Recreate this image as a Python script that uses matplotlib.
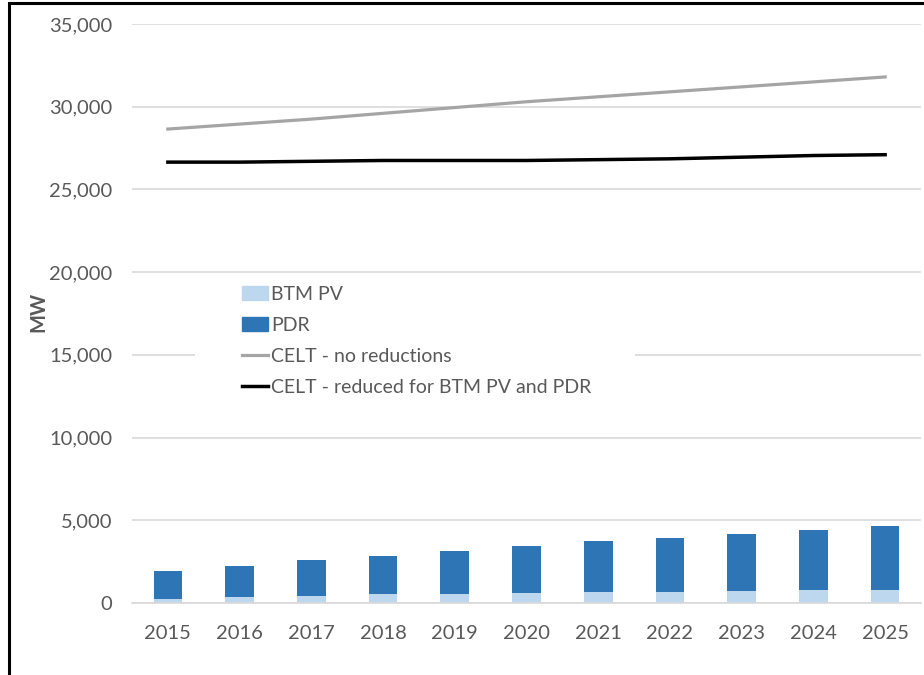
import matplotlib.pyplot as plt
import numpy as np
from matplotlib.patches import Patch, Rectangle
from matplotlib.lines import Line2D
from matplotlib.ticker import FuncFormatter

plt.rcParams['font.family'] = ['Lato', 'DejaVu Sans']

years = ['2015', '2016', '2017', '2018', '2019', '2020',
         '2021', '2022', '2023', '2024', '2025']
btm_pv = [250, 360, 440, 520, 565, 605, 645, 685, 725, 765, 790]
pdr = [1685, 1860, 2140, 2340, 2575, 2860, 3085, 3265, 3465, 3665, 3850]
celt_no_red = [28650, 28950, 29250, 29600, 29950, 30300,
               30600, 30900, 31200, 31500, 31800]
celt_reduced = [26650, 26650, 26700, 26750, 26750, 26750,
                26800, 26850, 26950, 27050, 27100]

txt_col = '#595959'
grid_col = '#d9d9d9'

fig = plt.figure(figsize=(9.24, 6.75), dpi=100)
ax = fig.add_axes([132 / 924, 1 - 603 / 675, 789 / 924, 579 / 675])

x = np.arange(len(years))
ax.bar(x, btm_pv, width=0.4, color='#bdd7ee', label='BTM PV', zorder=2)
ax.bar(x, pdr, width=0.4, bottom=btm_pv, color='#2e75b6', label='PDR', zorder=2)
ax.plot(x, celt_no_red, color='#a5a5a5', lw=2.3, label='CELT - no reductions', zorder=3)
ax.plot(x, celt_reduced, color='black', lw=2.5,
        label='CELT - reduced for BTM PV and PDR', zorder=3)

ax.set_xlim(-0.5, len(years) - 0.5)
ax.set_ylim(0, 35000)
ax.set_yticks(np.arange(0, 35001, 5000))
ax.yaxis.set_major_formatter(FuncFormatter(lambda v, p: '{:,.0f}'.format(v)))
ax.set_xticks(x)
ax.set_xticklabels(years)
ax.grid(axis='y', color=grid_col, lw=1.2, zorder=0)
ax.set_axisbelow(True)
for s in ['top', 'right', 'left']:
    ax.spines[s].set_visible(False)
ax.spines['bottom'].set_color(grid_col)
ax.spines['bottom'].set_linewidth(1.2)
ax.tick_params(axis='both', length=0, labelsize=14.5, colors=txt_col)
ax.tick_params(axis='y', pad=14)
ax.tick_params(axis='x', pad=16)

fig.text(38 / 924, 1 - 312 / 675, 'MW', rotation=90, ha='center', va='center',
         fontsize=14.5, fontweight='bold', color=txt_col)

handles = [Patch(color='#bdd7ee'), Patch(color='#2e75b6'),
           Line2D([], [], color='#a5a5a5', lw=2.3),
           Line2D([], [], color='black', lw=2.5)]
labels = ['BTM PV', 'PDR', 'CELT - no reductions', 'CELT - reduced for BTM PV and PDR']
leg = ax.legend(handles, labels, loc='upper left',
                bbox_to_anchor=(236 / 924, 1 - 280 / 675), bbox_transform=fig.transFigure,
                frameon=True, fancybox=False, framealpha=1, edgecolor='white',
                fontsize=14, handlelength=1.35, handleheight=0.7, handletextpad=0.15,
                labelspacing=0.72, borderpad=0.3, borderaxespad=0)
for t in leg.get_texts():
    t.set_color(txt_col)

# white backing so the gridline stays hidden right of the legend text
ax.add_patch(Rectangle((195 / 924, 1 - 400 / 675), 440 / 924, 115 / 675,
                       transform=fig.transFigure, facecolor='white',
                       edgecolor='none', zorder=1))

# outer frame
fig.patches.append(Rectangle((9 / 924, -0.1), 1.2, 1 - 3 / 675 + 0.1,
                             transform=fig.transFigure, fill=False,
                             edgecolor='black', lw=2.2, zorder=10))

fig.savefig('out.png', dpi=100)
